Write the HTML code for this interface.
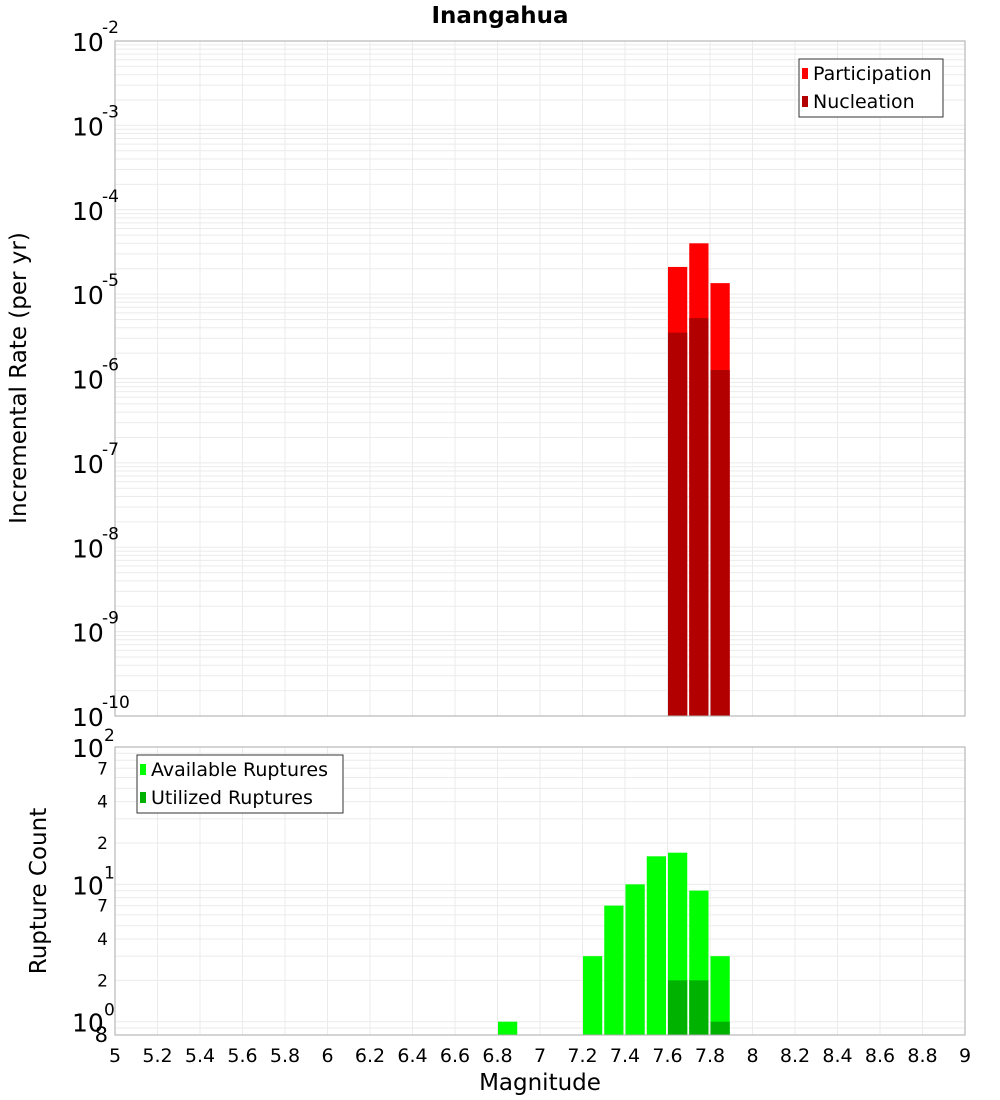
<!DOCTYPE html>
<html><head><meta charset="utf-8">
<style>
body{margin:0;background:#fff;}
svg{display:block;font-family:"DejaVu Sans","Liberation Sans",sans-serif;}
</style></head>
<body>
<svg id="chart" width="1000" height="1100" xmlns="http://www.w3.org/2000/svg">
<text x="500" y="23" text-anchor="middle" font-size="23" font-weight="bold">Inangahua</text>
<text transform="translate(26,378) rotate(-90)" text-anchor="middle" font-size="23">Incremental Rate (per yr)</text>
<text transform="translate(46,891) rotate(-90)" text-anchor="middle" font-size="23">Rupture Count</text>
<text x="540" y="1090" text-anchor="middle" font-size="23">Magnitude</text>
<g id="g"></g>
</svg>
<script>
// data
const binCenters=[7.65,7.75,7.85];
const participation=[2.1e-5,4.0e-5,1.35e-5];
const nucleation=[3.5e-6,5.2e-6,1.26e-6];
const countBins=[6.85,7.25,7.35,7.45,7.55,7.65,7.75,7.85];
const available=[1,3,7,10,16,17,9,3];
const utilBins=[7.65,7.75,7.85];
const utilized=[2,2,1];
const xTickLabels=["5","5.2","5.4","5.6","5.8","6","6.2","6.4","6.6","6.8","7","7.2","7.4","7.6","7.8","8","8.2","8.4","8.6","8.8","9"];
const topExps=[-2,-3,-4,-5,-6,-7,-8,-9,-10];
const botMinor=["7","4","2"];

const NS="http://www.w3.org/2000/svg";
const g=document.getElementById('g');
function el(t,a,txt){const e=document.createElementNS(NS,t);for(const k in a)e.setAttribute(k,a[k]);if(txt!==undefined)e.textContent=txt;g.appendChild(e);return e;}
const X0=115,X1=965;
const xs=m=>X0+(m-5)/4*(X1-X0);
const T0=41,T1=716;
const yT=v=>T0+(-2-Math.log10(v))/8*(T1-T0);
const B0=747,B1=1035,bmin=Math.log10(0.8);
const yB=v=>B1-(Math.log10(v)-bmin)/(2-bmin)*(B1-B0);
const bw=xs(5.1)-xs(5);

// grids
for(let i=0;i<xTickLabels.length;i++){const x=xs(+xTickLabels[i]);
 let l=el('line',{x1:x,x2:x,y1:T0,y2:T1,stroke:'#ebebeb'});
 l=el('line',{x1:x,x2:x,y1:B0,y2:B1,stroke:'#ebebeb'});}
for(let e=-10;e<-2;e++)for(let k=1;k<10;k++){const y=yT(k*Math.pow(10,e));
 const l=el('line',{x1:X0,x2:X1,y1:y,y2:y,stroke:'#ebebeb'});}
for(let e=-1;e<2;e++)for(let k=1;k<10;k++){const v=k*Math.pow(10,e);if(v<0.8)continue;const y=yB(v);
 const l=el('line',{x1:X0,x2:X1,y1:y,y2:y,stroke:'#ebebeb'});}

// top bars
binCenters.forEach((m,i)=>{
 let r=el('rect',{x:xs(m)-bw/2+0.5,y:yT(participation[i]),width:bw-2,height:T1-yT(participation[i]),fill:'#ff0000'});
 
 r=el('rect',{x:xs(m)-bw/2+0.5,y:yT(nucleation[i]),width:bw-2,height:T1-yT(nucleation[i]),fill:'#b20000'});
 });
// bottom bars
countBins.forEach((m,i)=>{const r=el('rect',{x:xs(m)-bw/2+0.5,y:yB(available[i]),width:bw-2,height:B1-yB(available[i]),fill:'#00ff00'});
 });
utilBins.forEach((m,i)=>{const r=el('rect',{x:xs(m)-bw/2+0.5,y:yB(utilized[i]),width:bw-2,height:B1-yB(utilized[i]),fill:'#00b200'});
 });

// frames
let f=el('rect',{x:X0,y:T0,width:X1-X0,height:T1-T0,fill:'none',stroke:'#aaa'});
f=el('rect',{x:X0,y:B0,width:X1-X0,height:B1-B0,fill:'none',stroke:'#aaa'});

// x ticks
xTickLabels.forEach(s=>{const t=el('text',{x:xs(+s),y:1062,'text-anchor':'middle','font-size':19},s);
 });
// top y ticks
topExps.forEach(e=>{const y=yT(Math.pow(10,e));
 const t=el('text',{x:72,y:y+10,'font-size':25},'10');
 const s=el('text',{x:102,y:y-8,'font-size':17},String(e));});
// bottom y ticks
[0,1,2].forEach(e=>{const y=yB(Math.pow(10,e));
 const t=el('text',{x:72,y:y+10,'font-size':25},'10');
 const s=el('text',{x:104,y:y-6,'font-size':17},String(e));});
[0,1].forEach(e=>botMinor.forEach(k=>{const y=yB(+k*Math.pow(10,e));
 const t=el('text',{x:108,y:y+6,'font-size':17,'text-anchor':'end'},k);}));
let m8=el('text',{x:108,y:yB(0.8)+7,'font-size':21,'text-anchor':'end'},'8');

// legends
function legend(x,y,w,items,name){const b=el('rect',{x:x,y:y,width:w,height:58,fill:'#fff',stroke:'#333'});
 
 items.forEach((it,i)=>{const r=el('rect',{x:x+3,y:y+9+i*28,width:6,height:11,fill:it[1]});
  const t=el('text',{x:x+14,y:y+21+i*28,'font-size':19},it[0]);});}
legend(799,59,144,[['Participation','#ff0000'],['Nucleation','#b20000']],'top-legend');
legend(137,755,206,[['Available Ruptures','#00ff00'],['Utilized Ruptures','#00b200']],'bottom-legend');
</script>
</body></html>
